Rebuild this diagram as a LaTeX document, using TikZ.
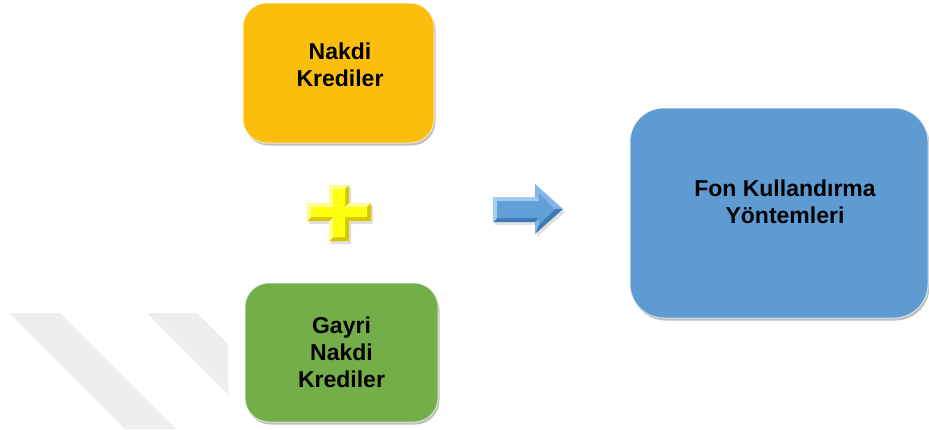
\documentclass[tikz,border=0pt]{standalone}
\usepackage{fontspec}
\setmainfont{Liberation Sans}
\usetikzlibrary{shadows}
\definecolor{orangeF}{HTML}{FBBE0C}
\definecolor{greenF}{HTML}{73AE49}
\definecolor{blueF}{HTML}{5E9BD3}
\definecolor{stripeC}{HTML}{EEEEEE}
\definecolor{plusMain}{HTML}{FFFF10}
\definecolor{plusLight}{HTML}{FFFF90}
\definecolor{plusDark}{HTML}{D6C800}
\definecolor{arrMain}{HTML}{62A0DA}
\definecolor{arrLight}{HTML}{A3CCEF}
\definecolor{arrMid}{HTML}{80B6E6}
\definecolor{arrDark}{HTML}{3E78B5}
\tikzset{
  boxshape/.style={rectangle, rounded corners=24pt, draw=white, draw opacity=0.6,
    line width=1pt,
    drop shadow={shadow xshift=1.5pt, shadow yshift=-2.5pt, opacity=0.25, fill=black}},
  boxtext/.style={font=\bfseries\fontsize{23}{27}\selectfont, align=center,
    inner sep=0pt, text=black}
}
\begin{document}
\begin{tikzpicture}[x=1pt,y=-1pt]
\useasboundingbox[fill=white] (0,0) rectangle (929,429);
% watermark stripes
\fill[stripeC] (9,313) -- (60,313) -- (176,429) -- (125,429) -- cycle;
\fill[stripeC] (147,313) -- (197,313) -- (228,344) -- (228,394) -- cycle;
% boxes
\node[boxshape, fill=orangeF, minimum width=191pt, minimum height=140pt] (nakdi) at (338.5,73) {};
\node[boxtext] (nakdiT) at (340,65) {Nakdi\\Krediler};
\node[boxshape, fill=greenF, minimum width=193pt, minimum height=139pt] (gayri) at (341.5,352.5) {};
\node[boxtext] (gayriT) at (341.5,352.5) {Gayri\\Nakdi\\Krediler};
\node[boxshape, rounded corners=34pt, fill=blueF, minimum width=298pt, minimum height=210pt] (fon) at (779,213) {};
\node[boxtext] (fonT) at (785,201.5) {Fon Kullandırma\\Yöntemleri};
% plus sign with bevel
\foreach \n/\x/\y in {1/329/185,2/349/185,3/349/203,4/371/203,5/371/221,6/349/221,
  7/349/241,8/329/241,9/329/221,10/307/221,11/307/203,12/329/203}
  \coordinate (o\n) at (\x,\y);
\foreach \n/\x/\y in {1/333/189,2/345/189,3/345/207,4/367/207,5/367/217,6/345/217,
  7/345/237,8/333/237,9/333/217,10/311/217,11/311/207,12/333/207}
  \coordinate (i\n) at (\x,\y);
\fill[black, opacity=0.12] ([shift={(2,3)}]o1) \foreach \n in {2,...,12}{ -- ([shift={(2,3)}]o\n)} -- cycle;
\foreach \a/\b/\c in {1/2/plusLight,2/3/plusDark,3/4/plusLight,4/5/plusDark,5/6/plusDark,
  6/7/plusDark,7/8/plusDark,8/9/plusLight,9/10/plusDark,10/11/plusLight,11/12/plusLight,12/1/plusLight}
  \fill[\c] (o\a) -- (o\b) -- (i\b) -- (i\a) -- cycle;
\fill[plusMain] (i1) \foreach \n in {2,...,12}{ -- (i\n)} -- cycle;
% block arrow with bevel
\foreach \n/\x/\y in {1/493/197,2/535/197,3/535/184,4/563/209,5/535/234,6/535/222,7/493/222}
  \coordinate (a\n) at (\x,\y);
\foreach \n/\x/\y in {1/497/201,2/539/201,3/539/193.5,4/555/209,5/539/224.5,6/539/218,7/497/218}
  \coordinate (b\n) at (\x,\y);
\fill[black, opacity=0.12] ([shift={(2,3)}]a1) \foreach \n in {2,...,7}{ -- ([shift={(2,3)}]a\n)} -- cycle;
\foreach \a/\b/\c in {1/2/arrLight,2/3/arrMid,3/4/arrMid,4/5/arrDark,5/6/arrMid,6/7/arrDark,7/1/arrLight}
  \fill[\c] (a\a) -- (a\b) -- (b\b) -- (b\a) -- cycle;
\fill[arrMain] (b1) \foreach \n in {2,...,7}{ -- (b\n)} -- cycle;
\end{tikzpicture}
\end{document}
